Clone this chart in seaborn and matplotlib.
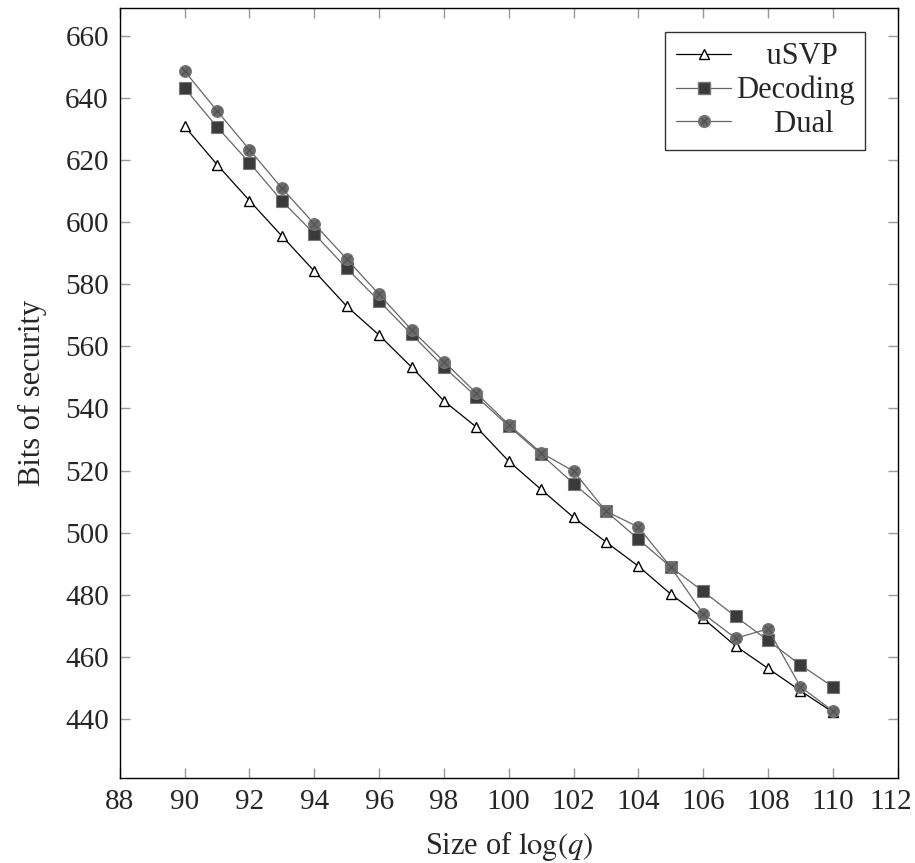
import matplotlib
matplotlib.use("Agg")
import matplotlib.pyplot as plt
import matplotlib.transforms as mtransforms
from matplotlib.lines import Line2D
import seaborn as sns

log_q = list(range(90, 111))
usvp = [630.8, 618.5, 606.9, 595.5, 584.2, 572.9, 563.6, 553.3, 542.4, 534.0, 523.0,
        513.9, 504.9, 497.0, 489.2, 480.2, 472.4, 463.5, 456.3, 449.1, 442.2]
decoding = [643.1, 630.6, 619.1, 606.8, 596.2, 585.1, 574.6, 563.9, 553.3, 543.8, 534.3,
            525.2, 515.8, 506.9, 497.9, 488.9, 481.1, 473.0, 465.3, 457.4, 450.4]
dual = [648.6, 635.8, 623.3, 610.9, 599.4, 588.1, 576.7, 565.3, 555.1, 544.9, 534.8,
        525.7, 519.8, 506.9, 501.8, 488.9, 473.9, 466.0, 469.0, 450.4, 442.6]
x_ticks = list(range(88, 113, 2))
y_ticks = list(range(440, 661, 20))

sns.set_theme(style="ticks")
plt.rcParams["font.family"] = ["Liberation Serif", "DejaVu Serif"]
plt.rcParams["mathtext.fontset"] = "stix"

fig = plt.figure(figsize=(9.15, 8.63), dpi=100)
ax = fig.add_axes([0.131, 0.0985, 0.85, 0.8925])

sns.lineplot(x=log_q, y=usvp, ax=ax, color="black", linewidth=0.9,
             marker="^", markersize=7, markerfacecolor="white",
             markeredgecolor="black", markeredgewidth=1.0, zorder=3)
sns.lineplot(x=log_q, y=decoding, ax=ax, color="#666666", linewidth=0.9,
             marker="s", markersize=8, markerfacecolor="#3a3a3a",
             markeredgecolor="#777777", markeredgewidth=0.8, zorder=4)
sns.lineplot(x=log_q, y=dual, ax=ax, color="#666666", linewidth=0.9,
             marker="o", markersize=8.5, markerfacecolor="#6a6a6a",
             markeredgecolor="#777777", markeredgewidth=0.8, zorder=5)
sns.scatterplot(x=log_q, y=dual, ax=ax, marker="x", color="#505050", s=30,
                linewidth=0.8, zorder=6)

ax.set_xlim(88, 112)
ax.set_ylim(421, 669)
ax.set_xticks(x_ticks)
ax.set_yticks(y_ticks)
ax.tick_params(direction="in", length=7, width=1, color="#999999",
               top=True, right=True, labelsize=21, pad=8)
# keep the last x label inside the canvas
last = ax.get_xticklabels()[-1]
last.set_transform(last.get_transform() + mtransforms.ScaledTranslation(-0.07, 0, fig.dpi_scale_trans))
for s in ax.spines.values():
    s.set_color("black")
    s.set_linewidth(1.0)
ax.set_xlabel("Size of $\\log(q)$", fontsize=22, labelpad=10)
ax.set_ylabel("Bits of security", fontsize=22, labelpad=13)

h_usvp = Line2D([], [], color="black", linewidth=0.9, marker="^", markersize=7,
                markerfacecolor="white", markeredgecolor="black")
h_dec = Line2D([], [], color="#666666", linewidth=0.9, marker="s", markersize=8,
               markerfacecolor="#3a3a3a", markeredgecolor="#777777")
h_dual = (Line2D([], [], color="#666666", linewidth=0.9, marker="o", markersize=8.5,
                 markerfacecolor="#6a6a6a", markeredgecolor="#777777"),
          Line2D([], [], linestyle="", marker="x", markersize=5, color="#505050"))
leg = ax.legend([h_usvp, h_dec, h_dual], ["    uSVP", "Decoding", "     Dual"],
                loc="upper right", bbox_to_anchor=(0.958, 0.969), fontsize=22,
                frameon=True, fancybox=False, edgecolor="black",
                handlelength=1.8, handletextpad=0.15, borderpad=0.35,
                labelspacing=0.15, borderaxespad=0)
leg.get_frame().set_linewidth(1.0)

fig.savefig("out.png", dpi=100)
